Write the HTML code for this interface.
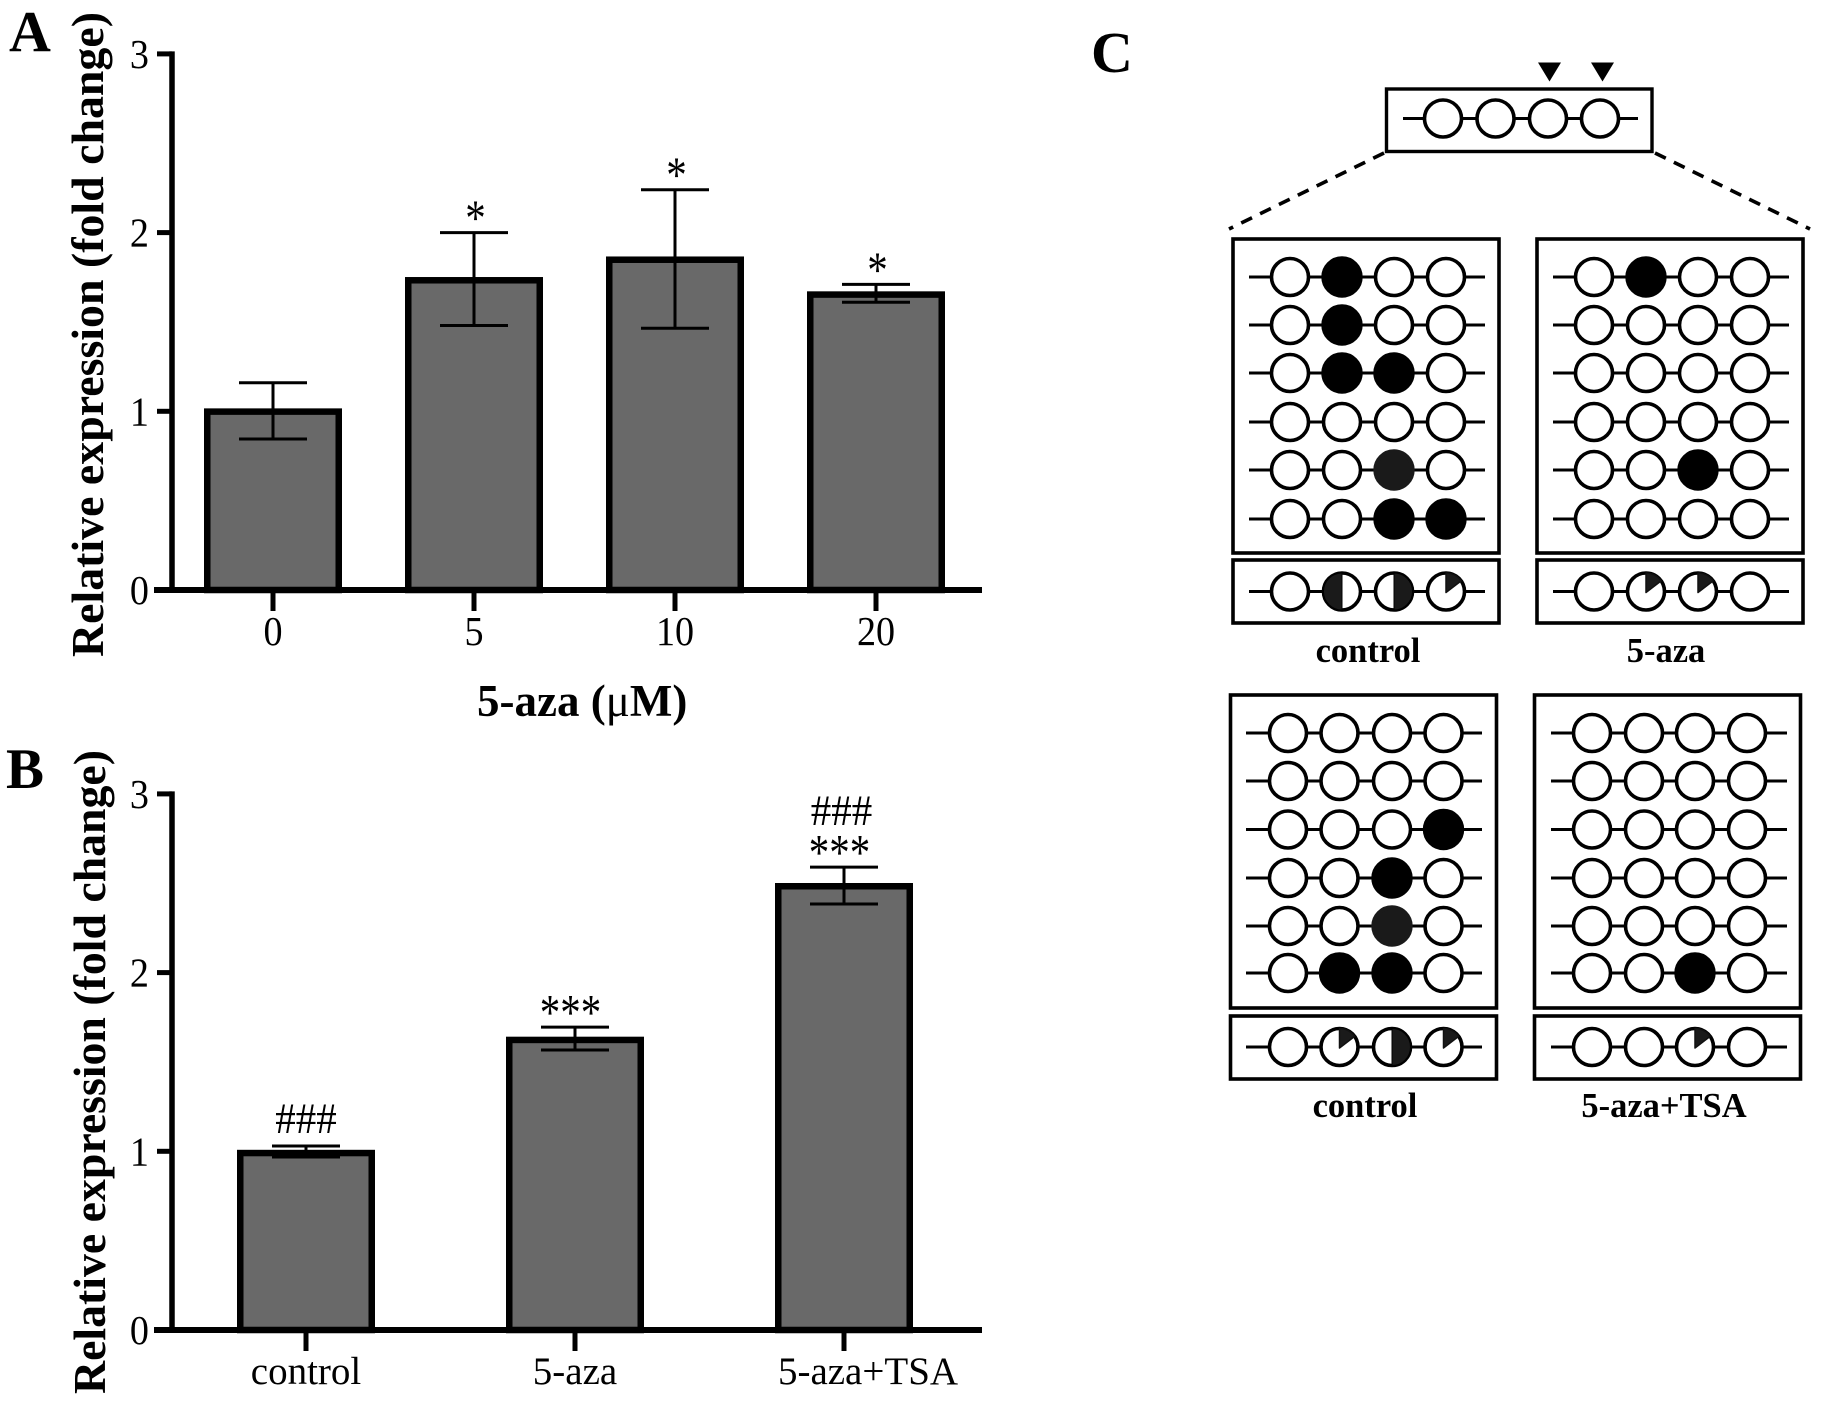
<!DOCTYPE html>
<html lang="en">
<head>
<meta charset="utf-8">
<title>Relative expression and methylation panels</title>
<style>
html,body{margin:0;padding:0;background:#fff}
svg{display:block}
text{font-family:"Liberation Serif",serif;fill:#000}
</style>
</head>
<body>
<svg id="figure" xmlns="http://www.w3.org/2000/svg" width="1825" height="1403" viewBox="0 0 1825 1403">
<rect x="0" y="0" width="1825" height="1403" fill="#fff"/>
<text x="9" y="51" font-size="58" font-weight="bold">A</text>
<text x="6" y="788" font-size="57" font-weight="bold">B</text>
<text x="1091" y="72" font-size="58" font-weight="bold">C</text>
<text transform="translate(103,657) rotate(-90)" font-size="45" font-weight="bold" textLength="645" lengthAdjust="spacingAndGlyphs">Relative expression (fold change)</text>
<text transform="translate(105,1394) rotate(-90)" font-size="45" font-weight="bold" textLength="644" lengthAdjust="spacingAndGlyphs">Relative expression (fold change)</text>
<text x="477" y="716" font-size="45" font-weight="bold">5-aza (<tspan font-weight="normal">μ</tspan>M)</text>
<text x="1368" y="662" font-size="34.5" font-weight="bold" text-anchor="middle">control</text>
<text x="1666" y="662" font-size="34.5" font-weight="bold" text-anchor="middle">5-aza</text>
<text x="1365" y="1117" font-size="34.5" font-weight="bold" text-anchor="middle">control</text>
<text x="1664" y="1117" font-size="34.5" font-weight="bold" text-anchor="middle">5-aza+TSA</text>
<polygon points="1538,62.5 1561,62.5 1549.5,81.5" fill="#000"/>
<polygon points="1591,62.5 1614,62.5 1602.5,81.5" fill="#000"/>
<line x1="1384" y1="153" x2="1229" y2="229" stroke="#000" stroke-width="3.6" stroke-dasharray="12,9"/>
<line x1="1655" y1="153" x2="1810" y2="229" stroke="#000" stroke-width="3.6" stroke-dasharray="12,9"/>
<g id="chart-a"></g>
<g id="chart-b"></g>
<g id="panel-c"></g>
</svg>
<script>
const yTicks = [0, 1, 2, 3];
const categoriesA = ["0", "5", "10", "20"];
const valuesA = [1.015, 1.75, 1.865, 1.67];
const errHighA = [1.16, 2.0, 2.24, 1.71];
const errLowA = [0.845, 1.48, 1.465, 1.61];
const marksA = [[], ["*"], ["*"], ["*"]];
const categoriesB = ["control", "5-aza", "5-aza+TSA"];
const valuesB = [1.007, 1.64, 2.5];
const errHighB = [1.03, 1.695, 2.59];
const errLowB = [0.968, 1.567, 2.384];
const marksB = [["###"], ["***"], ["***", "###"]];

const overviewSites = ["o", "o", "o", "o"];
const cloneControlTop = [[0,1,0,0],[0,1,0,0],[0,1,1,0],[0,0,0,0],[0,0,2,0],[0,0,1,1]];
const summaryControlTop = ["o", "L", "R", "Q"];
const cloneAza = [[0,1,0,0],[0,0,0,0],[0,0,0,0],[0,0,0,0],[0,0,1,0],[0,0,0,0]];
const summaryAza = ["o", "Q", "Q", "o"];
const cloneControlBottom = [[0,0,0,0],[0,0,0,0],[0,0,0,1],[0,0,1,0],[0,0,2,0],[0,1,1,0]];
const summaryControlBottom = ["o", "Q", "R", "Q"];
const cloneAzaTsa = [[0,0,0,0],[0,0,0,0],[0,0,0,0],[0,0,0,0],[0,0,0,0],[0,0,1,0]];
const summaryAzaTsa = ["o", "o", "Q", "o"];

const NS = "http://www.w3.org/2000/svg";
function mk(parent, tag, attrs) {
  const n = document.createElementNS(NS, tag);
  for (const k in attrs) n.setAttribute(k, attrs[k]);
  parent.appendChild(n);
  return n;
}

function drawChart(root, o) {
  const y = v => o.y0 - v * o.unit;
  const x = i => o.firstX + i * o.stepX;
  o.values.forEach((v, i) => {
    const b = mk(root, "rect", {x: x(i) - o.barW / 2 + 3.25, y: y(v) + 3, width: o.barW - 6.5, height: o.y0 - y(v) - 3, fill: "#696969", stroke: "#000", "stroke-width": 6.5});
    
    
    const g = mk(root, "g", {stroke: "#000", "stroke-width": 3});
    
    
    mk(g, "line", {x1: x(i), x2: x(i), y1: y(o.high[i]), y2: y(o.low[i])});
    mk(g, "line", {x1: x(i) - 34, x2: x(i) + 34, y1: y(o.high[i]), y2: y(o.high[i])});
    mk(g, "line", {x1: x(i) - 34, x2: x(i) + 34, y1: y(o.low[i]), y2: y(o.low[i])});
    o.marks[i].forEach((m, j) => {
      const isHash = m === "###";
      const base = y(o.high[i]) + (isHash && j === 0 ? -10 : 0) - (j * 39) + (isHash ? 0 : 0) + (!isHash ? 2.5 : -3);
      const shift = m === "*" ? o.markShift : (m === "***" ? -4.5 : (j === 1 ? -2.5 : 0));
      const t = mk(root, "text", {transform: "translate(" + (x(i) + shift) + "," + base + ") scale(1," + (isHash ? 1.06 : 1.25) + ")", "font-size": 41, "text-anchor": "middle"});
      t.textContent = m;
      
      
    });
    const tick = mk(root, "line", {x1: x(i), x2: x(i), y1: o.y0, y2: o.y0 + 21, stroke: "#000", "stroke-width": 5});
    
    
    const lx = x(i) + (o.categories[i].length > 6 && o.categories[i] !== "control" ? 24 : 0);
    const lab = mk(root, "text", {transform: "translate(" + lx + "," + o.labelY + ") scale(" + o.labelScaleX + ",1)", "font-size": o.labelSize, "text-anchor": "middle"});
    lab.textContent = o.categories[i];
    
    
  });
  const ya = mk(root, "line", {x1: 172, x2: 172, y1: y(3) - 2.5, y2: o.y0, stroke: "#000", "stroke-width": 5.5});
  
  
  const xa = mk(root, "line", {x1: 154, x2: 982, y1: o.y0, y2: o.y0, stroke: "#000", "stroke-width": 6});
  
  
  yTicks.forEach(v => {
    const t = mk(root, "line", {x1: 157, x2: 172, y1: y(v), y2: y(v), stroke: "#000", "stroke-width": 5});
    
    
    const l = mk(root, "text", {transform: "translate(149," + (y(v) + 14) + ") scale(.93,1)", "font-size": 41, "text-anchor": "end"});
    l.textContent = v;
    
    
  });
}

drawChart(document.getElementById("chart-a"), {
  y0: 590, unit: 178.7, firstX: 273, stepX: 201, barW: 138, markShift: 1.5,
  labelY: 645, labelSize: 41, labelScaleX: 0.93, categories: categoriesA, values: valuesA, high: errHighA, low: errLowA, marks: marksA
});
drawChart(document.getElementById("chart-b"), {
  y0: 1330, unit: 178.7, firstX: 306, stepX: 269, barW: 138, markShift: 0,
  labelY: 1384, labelSize: 39, labelScaleX: 1, categories: categoriesB, values: valuesB, high: errHighB, low: errLowB, marks: marksB
});

const panelC = document.getElementById("panel-c");
function drawSite(parent, cx, cy, state) {
  const solid = state === 1 || state === 2;
  const c = mk(parent, "circle", {cx: cx, cy: cy, r: 18.5, fill: state === 1 ? "#000" : (state === 2 ? "#1a1a1a" : "#fff"), stroke: state === 2 ? "#1a1a1a" : "#000", "stroke-width": solid ? 4.4 : 3.6});
  
  
  const r = 18.5;
  if (state === "L" || state === "R") {
    const sweep = state === "L" ? 0 : 1;
    const h = mk(parent, "path", {d: "M" + cx + " " + (cy - r) + " A" + r + " " + r + " 0 0 " + sweep + " " + cx + " " + (cy + r) + " Z", fill: "#1a1a1a", stroke: "#000", "stroke-width": 1});
    
    
  }
  if (state === "Q") {
    const a = 55 * Math.PI / 180;
    const w = mk(parent, "path", {d: "M" + cx + " " + (cy + 1) + " L" + cx + " " + (cy - r) + " A" + r + " " + r + " 0 0 1 " + (cx + r * Math.sin(a)) + " " + (cy - r * Math.cos(a)) + " Z", fill: "#1a1a1a", stroke: "#111", "stroke-width": 1.5, "stroke-linejoin": "round"});
    
    
  }
}
function drawRow(parent, cols, lineX1, lineX2, cy, states) {
  const l = mk(parent, "line", {x1: lineX1, x2: lineX2, y1: cy, y2: cy, stroke: "#000", "stroke-width": 3});
  
  
  states.forEach((s, i) => drawSite(parent, cols[i], cy, s));
}
function drawClones(name, box, cols, lineX1, lineX2, rows, rowY, sumBox, sumY, summary) {
  const g = mk(panelC, "g", {});
  
  
  const frame = mk(g, "rect", {x: box[0], y: box[1], width: box[2], height: box[3], fill: "#fff", stroke: "#000", "stroke-width": 3.6});
  
  
  rows.forEach((r, i) => drawRow(g, cols, lineX1, lineX2, rowY[i], r));
  const sf = mk(g, "rect", {x: sumBox[0], y: sumBox[1], width: sumBox[2], height: sumBox[3], fill: "#fff", stroke: "#000", "stroke-width": 3.6});
  
  
  drawRow(g, cols, lineX1, lineX2, sumY, summary);
}
const overview = mk(panelC, "rect", {x: 1386.5, y: 89, width: 265.5, height: 62.5, fill: "#fff", stroke: "#000", "stroke-width": 3.4});


drawRow(panelC, [1443, 1495.5, 1548, 1600], 1403, 1638, 118.5, overviewSites);

const rowsTop = [277, 325, 373, 422, 470, 519];
const rowsBottom = [733, 781, 829.5, 878, 926, 973];
drawClones("clones-control-top", [1233, 239, 266, 314], [1290, 1342, 1394, 1446], 1249, 1485, cloneControlTop, rowsTop, [1233, 560, 266, 63], 591.5, summaryControlTop);
drawClones("clones-5-aza", [1537, 239, 266, 314], [1594, 1646, 1698, 1750], 1553, 1789, cloneAza, rowsTop, [1537, 560, 266, 63], 591.5, summaryAza);
drawClones("clones-control-bottom", [1230.5, 695, 266, 313], [1288, 1339.5, 1392, 1443.5], 1246, 1482, cloneControlBottom, rowsBottom, [1230.5, 1016, 266, 63], 1047, summaryControlBottom);
drawClones("clones-5-aza-tsa", [1534.5, 695, 266, 313], [1592, 1644, 1695, 1747], 1551, 1787, cloneAzaTsa, rowsBottom, [1534.5, 1016, 266, 63], 1047, summaryAzaTsa);
</script>
</body>
</html>
